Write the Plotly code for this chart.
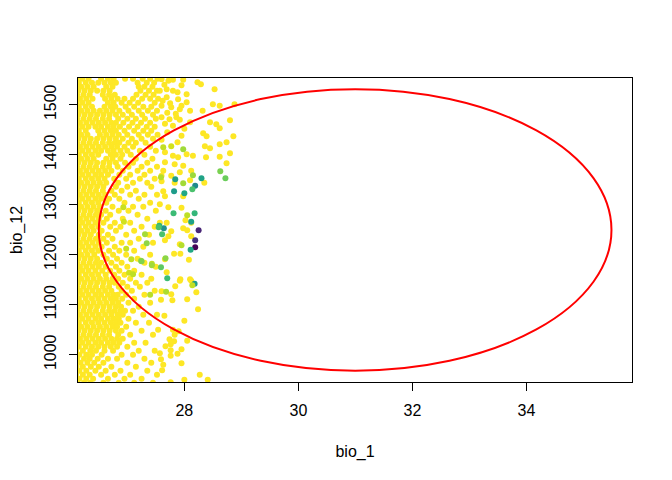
import plotly.graph_objects as go

# ---------------- data ----------------
# dense yellow band, given row by row: (bio_12, [bio_1 values])
yellow_rows = [
    (1552, [26.11, 26.21, 26.32, 26.54, 26.66, 26.76, 26.96, 27.10, 27.27, 27.40, 27.53]),
    (1544, [26.15, 26.27, 26.38, 26.49, 26.60, 26.71, 26.80, 27.18, 27.34, 27.47]),
    (1536, [26.10, 26.19, 26.30, 26.41, 26.63, 26.74, 27.20, 27.30, 27.44]),
    (1528, [26.14, 26.25, 26.36, 26.47, 26.58, 26.69, 27.23, 27.38, 27.52]),
    (1520, [26.12, 26.23, 26.34, 26.57, 26.68, 26.78, 27.16, 27.32, 27.46]),
    (1512, [26.17, 26.28, 26.39, 26.61, 26.72, 26.83, 26.95, 27.10, 27.26, 27.40, 27.54]),
    (1504, [26.11, 26.21, 26.32, 26.66, 26.76, 26.90, 27.04, 27.19, 27.48]),
    (1496, [26.15, 26.27, 26.38, 26.60, 26.71, 26.79, 26.97, 27.12, 27.28, 27.42]),
    (1488, [26.10, 26.19, 26.30, 26.41, 26.52, 26.63, 26.74, 26.86, 27.02, 27.20, 27.36, 27.52]),
    (1480, [26.14, 26.25, 26.36, 26.47, 26.58, 26.69, 26.80, 26.92, 27.08, 27.26, 27.45]),
    (1472, [26.12, 26.23, 26.34, 26.45, 26.57, 26.68, 26.84, 27.00, 27.15, 27.31, 27.50]),
    (1464, [26.17, 26.28, 26.39, 26.50, 26.61, 26.72, 26.80, 26.93, 27.09, 27.24, 27.40]),
    (1456, [26.11, 26.21, 26.32, 26.44, 26.54, 26.66, 26.76, 26.87, 27.03, 27.18, 27.34, 27.48]),
    (1448, [26.15, 26.27, 26.49, 26.60, 26.71, 26.80, 26.95, 27.12, 27.28, 27.42]),
    (1440, [26.10, 26.19, 26.30, 26.52, 26.63, 26.74, 26.85, 27.00, 27.20, 27.36, 27.53]),
    (1432, [26.14, 26.25, 26.36, 26.47, 26.58, 26.69, 26.80, 26.92, 27.08, 27.25, 27.45]),
    (1424, [26.12, 26.23, 26.34, 26.45, 26.57, 26.68, 26.78, 26.86, 27.02, 27.15, 27.32]),
    (1416, [26.17, 26.28, 26.39, 26.50, 26.61, 26.72, 26.82, 26.95, 27.10, 27.40]),
    (1408, [26.11, 26.21, 26.32, 26.44, 26.54, 26.66, 26.76, 26.88, 27.00, 27.22, 27.50]),
    (1400, [26.15, 26.27, 26.38, 26.49, 26.71, 26.80, 26.91, 27.06, 27.30]),
    (1392, [26.10, 26.19, 26.30, 26.41, 26.63, 26.74, 26.88, 27.15, 27.44]),
    (1384, [26.14, 26.25, 26.36, 26.47, 26.58, 26.69, 26.80, 26.96, 27.10, 27.35]),
    (1376, [26.12, 26.23, 26.34, 26.45, 26.57, 26.68, 26.83, 27.02, 27.25, 27.52]),
    (1368, [26.17, 26.28, 26.39, 26.50, 26.61, 26.72, 26.92, 27.18, 27.40]),
    (1360, [26.11, 26.21, 26.32, 26.44, 26.54, 26.66, 26.86, 27.05, 27.30]),
    (1352, [26.15, 26.27, 26.38, 26.49, 26.60, 26.77, 26.98, 27.22, 27.48]),
    (1344, [26.10, 26.19, 26.30, 26.41, 26.52, 26.63, 26.84, 27.10, 27.35]),
    (1336, [26.14, 26.25, 26.36, 26.47, 26.58, 26.80, 27.00, 27.42]),
    (1328, [26.12, 26.23, 26.34, 26.45, 26.57, 26.72, 26.90, 27.15]),
    (1320, [26.17, 26.28, 26.39, 26.50, 26.61, 26.78, 27.05, 27.30, 27.52]),
    (1312, [26.11, 26.21, 26.32, 26.44, 26.54, 26.68, 26.86, 27.20]),
    (1304, [26.15, 26.27, 26.38, 26.49, 26.63, 26.95, 27.40]),
    (1296, [26.10, 26.19, 26.30, 26.41, 26.52, 26.74, 27.10, 27.28]),
    (1288, [26.14, 26.25, 26.36, 26.47, 26.62, 26.85, 27.02, 27.50]),
    (1280, [26.12, 26.23, 26.34, 26.45, 26.54, 26.70, 27.18]),
    (1272, [26.17, 26.28, 26.39, 26.50, 26.64, 26.92, 27.35]),
    (1264, [26.11, 26.21, 26.32, 26.44, 26.58, 26.78, 27.05]),
    (1256, [26.15, 26.27, 26.38, 26.49, 26.70, 26.88, 27.25, 27.48]),
    (1248, [26.10, 26.19, 26.30, 26.41, 26.55, 26.80, 27.12]),
    (1240, [26.14, 26.25, 26.36, 26.50, 26.66, 26.98, 27.38]),
    (1232, [26.12, 26.23, 26.34, 26.45, 26.58, 26.74, 27.20]),
    (1224, [26.17, 26.28, 26.39, 26.50, 26.64, 26.90, 27.05, 27.45]),
    (1216, [26.11, 26.21, 26.32, 26.44, 26.55, 26.78, 27.28]),
    (1208, [26.15, 26.27, 26.38, 26.49, 26.68, 26.86, 27.12]),
    (1200, [26.10, 26.19, 26.30, 26.42, 26.58, 26.75, 26.98, 27.40]),
    (1192, [26.14, 26.25, 26.36, 26.47, 26.64, 26.82, 27.18]),
    (1184, [26.12, 26.23, 26.34, 26.45, 26.54, 26.72, 26.90, 27.30]),
    (1176, [26.17, 26.28, 26.39, 26.50, 26.62, 26.80, 27.00, 27.50]),
    (1168, [26.11, 26.21, 26.32, 26.44, 26.56, 26.70, 26.86, 27.12]),
    (1160, [26.15, 26.27, 26.38, 26.49, 26.62, 26.77, 26.95, 27.25]),
    (1152, [26.10, 26.19, 26.30, 26.41, 26.52, 26.63, 26.74, 26.84, 27.05, 27.42]),
    (1144, [26.14, 26.25, 26.36, 26.47, 26.58, 26.69, 26.78, 26.92, 27.15, 27.35]),
    (1136, [26.12, 26.23, 26.34, 26.45, 26.57, 26.68, 26.85, 27.00, 27.22]),
    (1128, [26.17, 26.28, 26.39, 26.50, 26.61, 26.72, 26.90, 27.08, 27.48]),
    (1120, [26.11, 26.21, 26.32, 26.44, 26.54, 26.66, 26.76, 26.83, 26.98, 27.30]),
    (1112, [26.15, 26.27, 26.38, 26.49, 26.60, 26.71, 26.80, 26.91, 27.12]),
    (1104, [26.10, 26.19, 26.30, 26.41, 26.52, 26.63, 26.74, 26.84, 27.02, 27.40]),
    (1096, [26.14, 26.25, 26.36, 26.47, 26.58, 26.69, 26.80, 26.89, 27.20]),
    (1088, [26.12, 26.23, 26.34, 26.45, 26.57, 26.68, 26.78, 26.88, 26.96, 27.10]),
    (1080, [26.17, 26.28, 26.39, 26.50, 26.61, 26.72, 26.83, 26.92, 27.28, 27.52]),
    (1072, [26.11, 26.21, 26.32, 26.44, 26.54, 26.66, 26.76, 26.85, 27.02]),
    (1064, [26.15, 26.27, 26.38, 26.49, 26.60, 26.71, 26.80, 26.88, 27.15, 27.38]),
    (1056, [26.10, 26.19, 26.30, 26.41, 26.52, 26.63, 26.74, 26.82, 26.98]),
    (1048, [26.14, 26.25, 26.36, 26.47, 26.58, 26.69, 26.80, 26.90, 27.25]),
    (1040, [26.12, 26.23, 26.34, 26.45, 26.57, 26.68, 26.84, 27.05, 27.45]),
    (1032, [26.17, 26.28, 26.39, 26.50, 26.61, 26.72, 26.82, 26.92]),
    (1024, [26.11, 26.21, 26.32, 26.44, 26.54, 26.66, 26.76, 26.86, 27.12, 27.32]),
    (1016, [26.15, 26.27, 26.38, 26.49, 26.60, 26.71, 26.82, 27.00]),
    (1008, [26.10, 26.22, 26.35, 26.45, 26.60, 26.75, 27.20, 27.48]),
    (1000, [26.16, 26.28, 26.38, 26.55, 26.90, 27.10]),
    (992, [26.12, 26.24, 26.34, 26.48, 26.66, 26.82, 27.30]),
    (984, [26.18, 26.30, 26.42, 26.58, 27.00, 27.42]),
    (976, [26.11, 26.22, 26.36, 26.50, 26.72, 27.15]),
    (968, [26.16, 26.28, 26.44, 26.62, 26.88, 27.35]),
    (960, [26.10, 26.22, 26.34, 26.54, 26.78, 27.05, 27.52]),
    (952, [26.16, 26.28, 26.40, 26.66, 26.95, 27.25]),
    (944, [26.12, 26.24, 26.35, 26.58, 26.85, 27.12, 27.45]),
]

# scattered yellow points to the right of the dense band
sparse_bio1 = [
    27.60, 27.72, 27.80, 27.95, 28.23, 28.29, 28.53, 27.57, 27.69, 27.80, 28.04, 27.69,
    27.89, 28.04, 27.60, 27.77, 27.92, 28.10, 28.32, 28.50, 28.62, 28.88, 27.60, 27.74,
    27.86, 27.80, 27.95, 28.10, 28.45, 28.56, 28.62, 28.80, 28.33, 28.39, 28.86, 28.36,
    28.45, 28.62, 28.74, 28.80, 28.62, 28.38, 28.15, 28.04, 27.89, 27.80, 27.66, 27.66,
    27.83, 27.98, 28.12, 28.74, 27.63, 27.92, 27.77, 27.60,
    27.65, 27.88, 27.98, 27.62, 27.75, 27.95, 27.70, 27.85, 27.66, 27.92, 28.00, 27.70,
    27.88, 27.60,
    27.60, 27.83, 28.10, 28.35, 27.63, 27.98, 27.66, 27.57, 27.72, 27.95, 28.02, 28.12,
    27.57, 27.69, 27.77, 27.98, 28.05, 28.12, 27.72, 27.66, 27.92, 27.82, 27.93, 27.66,
    28.08, 27.69, 27.93, 28.10,
    27.92, 28.12, 27.60, 27.77, 27.84, 28.21, 27.59, 27.79, 28.05, 28.24, 27.65, 28.00,
    27.54, 27.80, 27.90, 27.83, 28.05, 27.74, 27.82, 27.76, 27.67, 27.95, 27.76, 27.88,
    27.76, 27.57, 27.59, 27.95, 27.63, 27.61, 28.27, 28.00, 28.41, 27.76,
]
sparse_bio12 = [
    1551, 1548, 1550, 1539, 1545, 1541, 1531, 1528, 1531, 1528, 1521, 1515,
    1511, 1505, 1498, 1495, 1491, 1488, 1488, 1501, 1498, 1501, 1475, 1471,
    1475, 1458, 1438, 1465, 1465, 1461, 1453, 1469, 1443, 1437, 1437, 1417,
    1413, 1421, 1425, 1403, 1396, 1395, 1398, 1401, 1395, 1398, 1405, 1385,
    1381, 1378, 1368, 1383, 1368, 1365, 1358, 1358,
    1540, 1525, 1550, 1508, 1503, 1498, 1484, 1482, 1462, 1470, 1452, 1445,
    1425, 1430,
    1347, 1344, 1349, 1344, 1327, 1317, 1317, 1301, 1295, 1294, 1269, 1264,
    1264, 1264, 1247, 1253, 1249, 1237, 1237, 1229, 1221, 1202, 1202, 1191,
    1190, 1165, 1151, 1151,
    1148, 1148, 1127, 1121, 1137, 1125, 1110, 1109, 1111, 1091, 1078, 1068,
    1050, 1050, 1047, 1040, 1028, 1031, 1027, 1021, 1017, 1011, 1009, 1002,
    998, 1003, 991, 983, 980, 969, 960, 950, 950, 945,
]

# points with other (viridis) colours
colored_bio1 = [
    28.30, 28.19, 28.63, 28.72, 27.84, 27.98, 28.15, 27.82, 28.00, 28.14,
    27.81, 28.18, 28.05, 28.12, 28.25, 28.19, 28.19, 28.11, 27.64, 27.56,
    27.61, 27.31, 27.34, 27.95, 27.24, 27.43, 27.59, 27.67, 27.70, 28.18,
    28.14, 27.40, 27.68, 26.93, 26.94, 26.98, 27.07, 27.25, 27.03, 27.10,
    27.43, 27.63, 27.98, 27.59, 27.77, 27.55,
]
colored_bio12 = [
    1353, 1338, 1367, 1353, 1351, 1343, 1359, 1327, 1323, 1331,
    1283, 1283, 1279, 1266, 1249, 1229, 1215, 1210, 1253, 1258,
    1241, 1241, 1223, 1219, 1188, 1182, 1175, 1193, 1153, 1142,
    1139, 1120, 1126, 1295, 1266, 1212, 1191, 1187, 1164, 1161,
    1179, 1415, 1411, 1355, 1417, 1255,
]
colored_fill = [
    "#20A386", "#1F8A8C", "#7AD151", "#6ACD5B", "#1FA088", "#A2DA37", "#9BD93C", "#1E9C89", "#22A785", "#4AC16D",
    "#3BBB75", "#34B679", "#BDDF26", "#1FA187", "#482576", "#46327E", "#450457", "#22A884", "#21918C", "#2EB37C",
    "#4AC16D", "#A5DB36", "#8ED645", "#B5DE2B", "#A8DB34", "#C0DF25", "#5EC962", "#8BD646", "#3DBC74", "#1F9E89",
    "#C2DF23", "#B8DE29", "#ADDC30", "#C8E020", "#D0E11C", "#C8E020", "#C2DF23", "#7FD34E", "#CDE11D", "#BDDF26",
    "#A0DA39", "#C2DF23", "#A0DA39", "#B5DE2B", "#D2E21B", "#4AC16D",
]

# ellipse (bio_1 range, bio_12 range)
ellipse_bio1 = [26.50, 35.49]
ellipse_bio12 = [968, 1531]

x_ticks = [28, 30, 32, 34]
y_ticks = [1000, 1100, 1200, 1300, 1400, 1500]
x_range = [26.135, 35.85]
y_range = [945.4, 1553.4]

# ---------------- build ----------------
yellow_x, yellow_y = [], []
for yv, xs in yellow_rows:
    for xv in xs:
        yellow_x.append(xv)
        yellow_y.append(yv)
yellow_x += sparse_bio1
yellow_y += sparse_bio12

YELLOW = "#FDE725"
FONT = "Liberation Sans, Arial, sans-serif"

fig = go.Figure()
fig.add_trace(go.Scatter(
    x=yellow_x, y=yellow_y, mode="markers",
    marker=dict(size=6, color=YELLOW, line=dict(width=0)),
    showlegend=False, hoverinfo="skip",
))
fig.add_trace(go.Scatter(
    x=colored_bio1, y=colored_bio12, mode="markers",
    marker=dict(size=6, color=colored_fill, line=dict(width=0)),
    showlegend=False, hoverinfo="skip",
))

fig.add_shape(
    type="circle", xref="x", yref="y",
    x0=ellipse_bio1[0], x1=ellipse_bio1[1],
    y0=ellipse_bio12[0], y1=ellipse_bio12[1],
    line=dict(color="#FF0000", width=2), layer="above",
)

axis_common = dict(
    showgrid=False, zeroline=False, showline=True, mirror=True,
    linecolor="black", linewidth=1, ticks="outside", ticklen=8,
    tickcolor="black", tickwidth=1, automargin=False,
    tickfont=dict(family=FONT, size=16, color="black"),
)

# the page body has an 8px margin, so the figure is sized to fill the
# remaining 664x472 of the 672x480 window
fig.update_layout(
    width=664, height=472,
    margin=dict(l=70, r=40, t=70, b=98),
    paper_bgcolor="white", plot_bgcolor="white",
    font=dict(family=FONT, size=16, color="black"),
    xaxis=dict(
        range=x_range, tickmode="array", tickvals=x_ticks,
        ticktext=[str(t) for t in x_ticks],
        title=dict(text="bio_1", font=dict(family=FONT, size=16), standoff=27),
        ticklabelstandoff=6,
        **axis_common,
    ),
    yaxis=dict(
        range=y_range, tickmode="array", tickvals=y_ticks,
        ticktext=[str(t) for t in y_ticks], tickangle=-90,
        title=dict(text="bio_12", font=dict(family=FONT, size=16), standoff=20),
        ticklabelstandoff=7,
        **axis_common,
    ),
)

fig.write_html("out.html")
